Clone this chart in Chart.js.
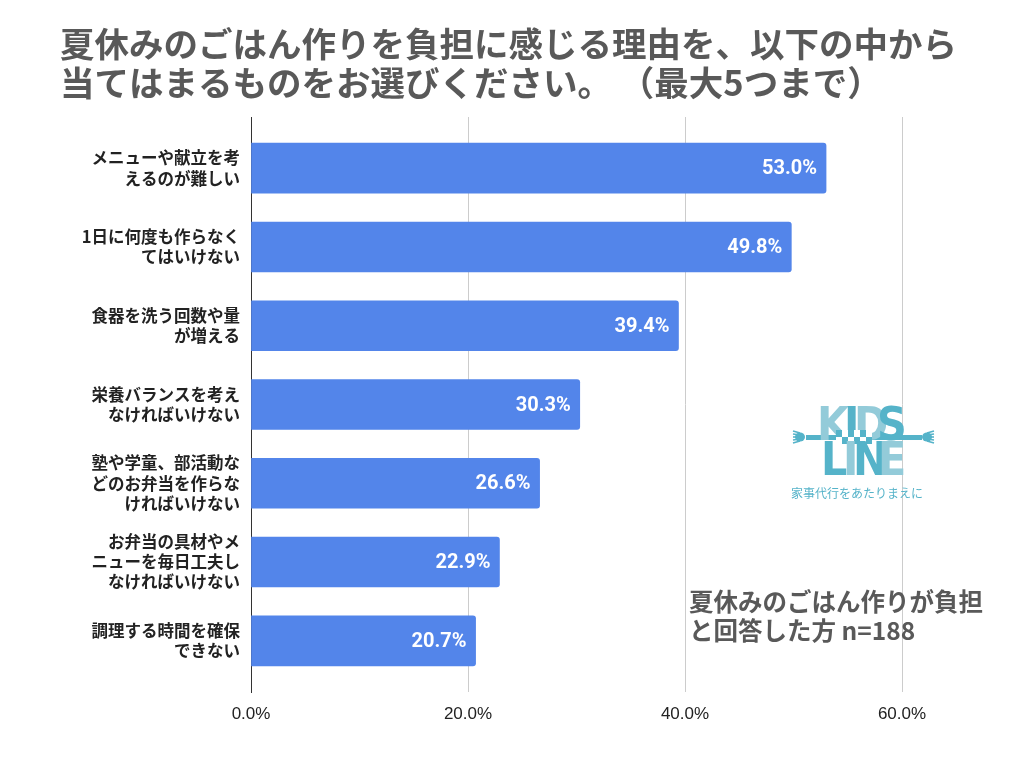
<!DOCTYPE html>
<html>
<head>
<meta charset="utf-8">
<script src="https://cdn.jsdelivr.net/npm/chart.js@4/dist/chart.umd.min.js"></script>
<style>
  html, body { margin: 0; padding: 0; background: #fff; }
  #wrap { width: 1036px; height: 774px; }
</style>
</head>
<body>
<div id="wrap"><canvas id="chart" width="1036" height="774"></canvas></div>
<script>
// ── Data ───────────────────────────────────────────────────────────────
const titleLines = [
  '夏休みのごはん作りを負担に感じる理由を、以下の中から',
  '当てはまるものをお選びください。 （最大5つまで）',
];
const categories = [
  ['メニューや献立を考', 'えるのが難しい'],
  ['1日に何度も作らなく', 'てはいけない'],
  ['食器を洗う回数や量', 'が増える'],
  ['栄養バランスを考え', 'なければいけない'],
  ['塾や学童、部活動な', 'どのお弁当を作らな', 'ければいけない'],
  ['お弁当の具材やメ', 'ニューを毎日工夫し', 'なければいけない'],
  ['調理する時間を確保', 'できない'],
];
const values = [53.0, 49.8, 39.4, 30.3, 26.6, 22.9, 20.7];
const xTicks = [0, 20, 40, 60];
const noteLines = ['夏休みのごはん作りが負担', 'と回答した方 n=188'];

const JP = '"Noto Sans CJK JP", "Noto Sans", sans-serif';

// ── Plugins ────────────────────────────────────────────────────────────
const valueLabels = {
  id: 'valueLabels',
  afterDatasetsDraw(chart) {
    const { ctx } = chart;
    const meta = chart.getDatasetMeta(0);
    ctx.save();
    ctx.fillStyle = '#ffffff';
    ctx.font = 'bold 20px Roboto, sans-serif';
    ctx.textAlign = 'right';
    ctx.textBaseline = 'middle';
    meta.data.forEach((bar, i) => {
      ctx.fillText(values[i].toFixed(1) + '%', bar.x - 9, bar.y + 1);
    });
    ctx.restore();
  },
};

const decorations = {
  id: 'decorations',
  afterDraw(chart) {
    const { ctx } = chart;
    ctx.save();
    // title
    ctx.fillStyle = '#595959';
    ctx.font = 'bold 34.5px ' + JP;
    ctx.textAlign = 'left';
    ctx.textBaseline = 'middle';
    ctx.fillText(titleLines[0], 60, 44);
    ctx.fillText(titleLines[1], 60, 83);

    // note
    ctx.font = 'bold 24.5px ' + JP;
    ctx.fillText(noteLines[0], 689, 602);
    ctx.fillText(noteLines[1], 689, 631);

    // logo
    const light = '#93cbd9';
    const dark = '#55b3c9';
    // arms
    ctx.fillStyle = dark;
    ctx.fillRect(806, 435, 116, 5);
    [[800, 437], [927, 437]].forEach(([hx, hy], k) => {
      const dir = k === 0 ? -1 : 1;
      ctx.beginPath();
      ctx.ellipse(hx, hy, 5, 4.5, 0, 0, Math.PI * 2);
      ctx.fill();
      ctx.lineWidth = 1.6;
      ctx.strokeStyle = dark;
      for (let f = -2; f <= 2; f++) {
        ctx.beginPath();
        ctx.moveTo(hx, hy + f * 2);
        ctx.lineTo(hx + dir * 7, hy + f * 3);
        ctx.stroke();
      }
    });
    ctx.textBaseline = 'alphabetic';
    ctx.textAlign = 'left';
    ctx.font = 'bold 46px "DejaVu Sans Condensed", "Liberation Sans Narrow", sans-serif';
    const kids = [['K', 817, light], ['I', 844, dark], ['D', 854, light], ['S', 877, dark]];
    kids.forEach(([ch, x, c]) => { ctx.fillStyle = c; ctx.fillText(ch, x, 440); });
    // checker
    for (let i = 0; i < 6; i++) {
      ctx.fillStyle = i % 2 ? '#ffffff' : dark;
      ctx.fillRect(836 + i * 6, 430, 6, 7);
      ctx.fillStyle = i % 2 ? dark : '#ffffff';
      ctx.fillRect(836 + i * 6, 437, 6, 7);
    }
    const line = [['L', 821, dark], ['I', 843, light], ['N', 853, dark], ['E', 878, light]];
    line.forEach(([ch, x, c]) => { ctx.fillStyle = c; ctx.fillText(ch, x, 475); });
    ctx.fillStyle = dark;
    ctx.font = '12px ' + JP;
    ctx.textAlign = 'center';
    ctx.textBaseline = 'middle';
    ctx.fillText('家事代行をあたりまえに', 857, 493);
    ctx.restore();
  },
};

// ── Chart ──────────────────────────────────────────────────────────────
const ctx = document.getElementById('chart').getContext('2d');
new Chart(ctx, {
  type: 'bar',
  data: {
    datasets: [
      {
        data: values.map((v, i) => ({ x: v, y: i })),
        backgroundColor: '#5385ea',
        barThickness: 50,
        borderRadius: 3,
        borderSkipped: 'start',
      },
    ],
  },
  options: {
    indexAxis: 'y',
    responsive: false,
    animation: false,
    layout: { padding: { top: 117, right: 134, bottom: 0, left: 0 } },
    plugins: {
      legend: { display: false },
      tooltip: { enabled: false },
      title: { display: false },
    },
    scales: {
      x: {
        type: 'linear',
        min: 0,
        max: 60,
        afterBuildTicks: (s) => { s.ticks = xTicks.map((v) => ({ value: v })); },
        afterFit: (s) => { s.height = 82; },
        grid: { color: '#cccccc', lineWidth: 1, drawTicks: false },
        border: { display: false },
        ticks: {
          padding: 12,
          color: '#222222',
          font: { family: '"Liberation Sans", Arial, sans-serif', size: 17 },
          callback: (v) => v.toFixed(1) + '%',
        },
      },
      y: {
        type: 'linear',
        reverse: true,
        offset: false,
        min: -0.65,
        max: 6.65,
        afterBuildTicks: (s) => { s.ticks = categories.map((_, i) => ({ value: i })); },
        afterFit: (s) => { s.width = 251; s.paddingTop = 0; s.paddingBottom = 0; },
        grid: { display: false, drawTicks: false, offset: false },
        border: { display: true, color: '#333333', width: 1 },
        ticks: {
          padding: 11,
          color: '#222222',
          font: { family: JP, size: 16.5, weight: 'bold', lineHeight: 1.22 },
          callback: (v) => categories[v],
        },
      },
    },
  },
  plugins: [valueLabels, decorations],
});
</script>
</body>
</html>
